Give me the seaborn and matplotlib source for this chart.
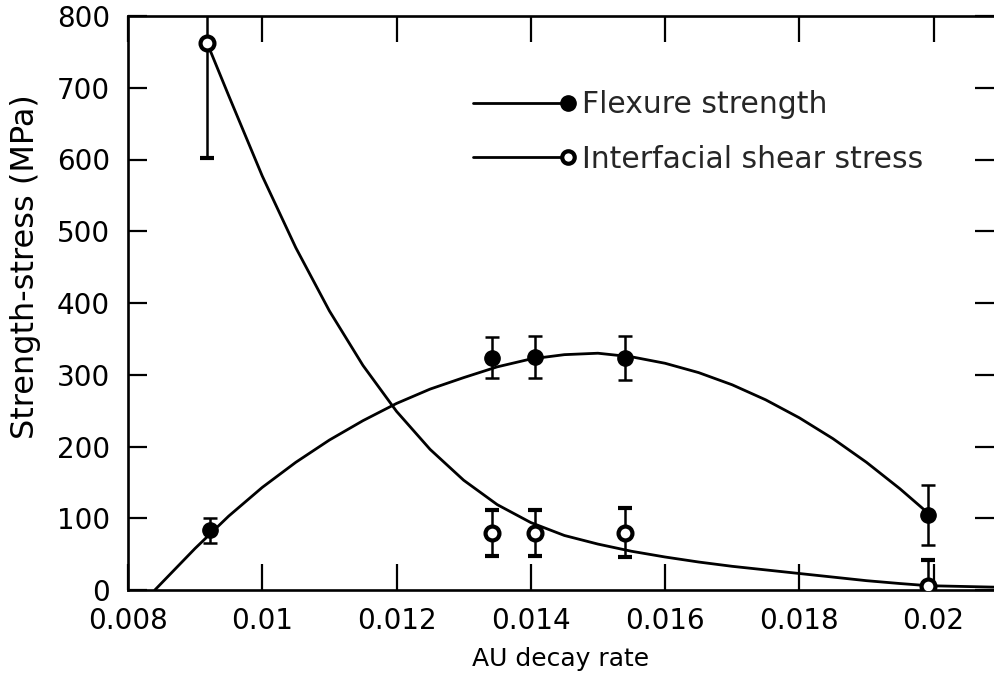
import numpy as np
import pandas as pd
import matplotlib
matplotlib.use("Agg")
import matplotlib.pyplot as plt
import seaborn as sns
from matplotlib.legend_handler import HandlerLine2D
from matplotlib.lines import Line2D

# ---------------- data ----------------
x_ticks = [0.008, 0.010, 0.012, 0.014, 0.016, 0.018, 0.020]
x_tick_labels = ["0.008", "0.01", "0.012", "0.014", "0.016", "0.018", "0.02"]
y_ticks = [0, 100, 200, 300, 400, 500, 600, 700, 800]

# measured points with error bars
flex_x = [0.00922, 0.01342, 0.01406, 0.01540, 0.01992]
flex_y = [83, 324, 325, 323, 105]
flex_err = [18, 29, 29, 31, 42]

shear_x = [0.00918, 0.01342, 0.01406, 0.01540, 0.01992]
shear_y = [762, 80, 80, 80, 6]
shear_err = [160, 32, 32, 34, 36]

# fitted curves
flex_curve_x = [0.0084, 0.0090, 0.0095, 0.0100, 0.0105, 0.0110, 0.0115, 0.0120,
                0.0125, 0.0130, 0.0135, 0.0140, 0.0145, 0.0150, 0.0155, 0.0160,
                0.0165, 0.0170, 0.0175, 0.0180, 0.0185, 0.0190, 0.0195, 0.01992]
flex_curve_y = [0, 58, 103, 143, 178, 209, 236, 260,
                280, 296, 311, 322, 328, 330, 325, 316,
                303, 286, 265, 240, 211, 178, 141, 107]

shear_curve_x = [0.00918, 0.0095, 0.0100, 0.0105, 0.0110, 0.0115, 0.0120,
                 0.0125, 0.0130, 0.0135, 0.0140, 0.0145, 0.0150, 0.0155,
                 0.0160, 0.0165, 0.0170, 0.0175, 0.0180, 0.0185, 0.0190,
                 0.0195, 0.01992, 0.0209]
shear_curve_y = [762, 689, 577, 477, 389, 313, 249,
                 196, 153, 119, 94, 76, 64, 54,
                 46, 39, 33, 28, 23, 18, 13,
                 9, 6, 4]

labels = ["Flexure strength", "Interfacial shear stress"]

# ---------------- figure ----------------
sns.set_theme(style="white")
plt.rcParams['font.family'] = ['DejaVu Sans']

fig = plt.figure(figsize=(9.94, 6.75), dpi=100)
ax = fig.add_axes([128 / 994, 85 / 675, 866 / 994, 574 / 675])

sns.lineplot(x=flex_curve_x, y=flex_curve_y, ax=ax, color="black", lw=2.0,
             sort=False, estimator=None)
sns.lineplot(x=shear_curve_x, y=shear_curve_y, ax=ax, color="black", lw=2.0,
             sort=False, estimator=None)

ax.errorbar(flex_x, flex_y, yerr=flex_err, fmt="o", color="black", ms=11,
            capsize=5, elinewidth=1.8, capthick=1.8, zorder=5)
ax.errorbar(shear_x, shear_y, yerr=shear_err, fmt="o", color="black", ms=10,
            mfc="white", mec="black", mew=3, capsize=5, elinewidth=1.8,
            capthick=1.8, zorder=5)

ax.set_xlim(0.008, 0.0209)
ax.set_ylim(0, 800)
ax.set_xticks(x_ticks)
ax.set_xticklabels(x_tick_labels)
ax.set_yticks(y_ticks)

for side in ["left", "bottom", "top"]:
    ax.spines[side].set_linewidth(1.9)
    ax.spines[side].set_color("black")
ax.spines["right"].set_visible(False)

ax.tick_params(axis="x", direction="in", length=19, width=1.6, top=True,
               bottom=True, labelsize=20, pad=12, colors="black")
ax.tick_params(axis="y", direction="in", length=14, width=1.6, left=True,
               right=True, labelsize=20, pad=13, colors="black")

ax.set_xlabel("AU decay rate", fontsize=18, labelpad=9, color="black")
ax.set_ylabel("Strength-stress (MPa)", fontsize=23, color="black")
ax.yaxis.set_label_coords(-0.101, 0.563)


class EndMarker(HandlerLine2D):
    def create_artists(self, legend, orig_handle, xdescent, ydescent, width,
                       height, fontsize, trans):
        arts = super().create_artists(legend, orig_handle, xdescent, ydescent,
                                      width, height, fontsize, trans)
        for a in arts:
            if isinstance(a, Line2D):
                a.set_markevery([2])
        return arts


handles = [
    Line2D([], [], color="black", lw=2, marker="o", ms=11),
    Line2D([], [], color="black", lw=2, marker="o", ms=9, mfc="white",
           mec="black", mew=3),
]
ax.legend(handles, labels, loc="upper left", bbox_to_anchor=(0.398, 0.871),
          frameon=False, handlelength=3.2, handletextpad=0.47,
          labelspacing=0.86, borderpad=0, borderaxespad=0, fontsize=21.5,
          handler_map={Line2D: EndMarker(numpoints=1)})

fig.savefig("out.png", dpi=100)
